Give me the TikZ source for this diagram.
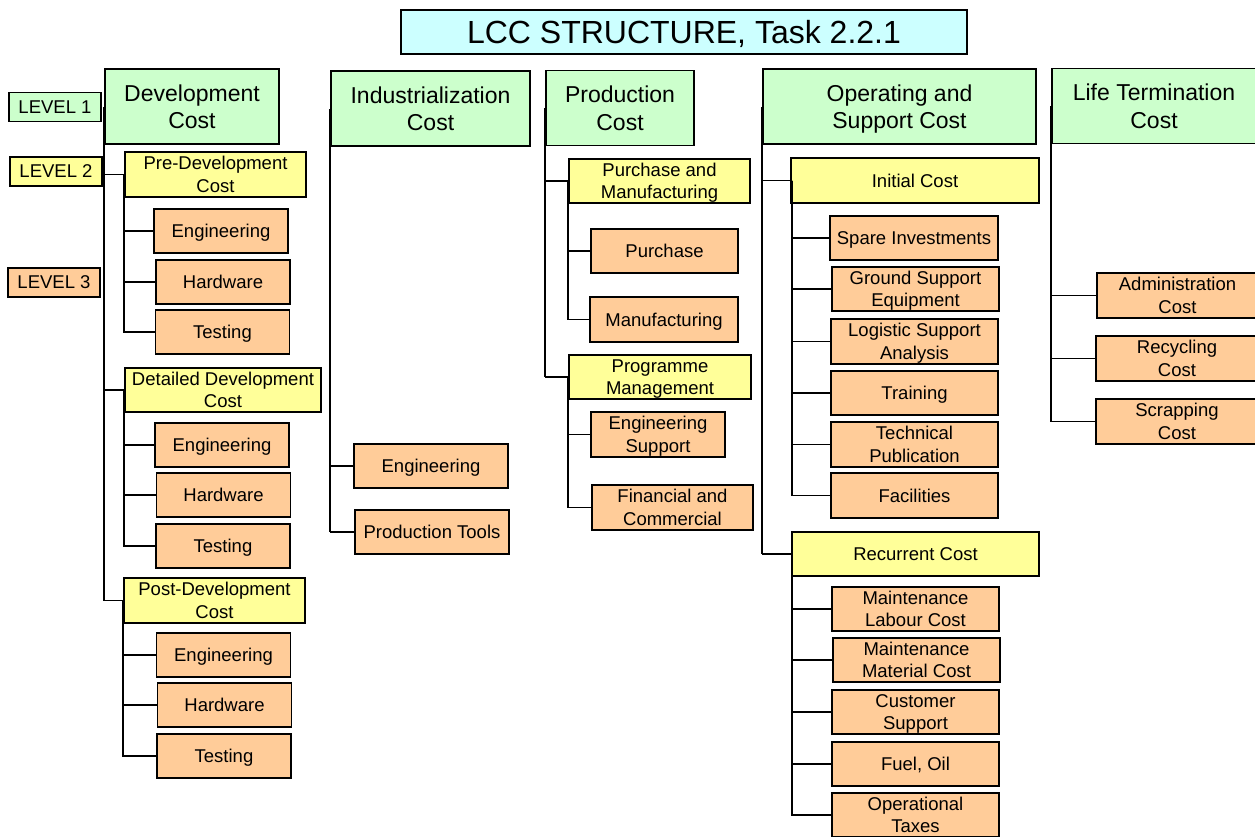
\documentclass[tikz,border=0pt]{standalone}
\usepackage{fontspec}
\setmainfont{Liberation Sans}
\definecolor{lonecol}{HTML}{CCFFCC}
\definecolor{ltwocol}{HTML}{FFFF99}
\definecolor{lthreecol}{HTML}{FFCC99}
\definecolor{titlecol}{HTML}{CCFFFF}
\begin{document}
\begin{tikzpicture}[x=1pt,y=-1pt,
  box/.style={draw=black, line width=1.6pt, inner sep=0pt, align=center, text=black, text depth=0pt},
  titlebox/.style={box, line width=1.1pt, fill=titlecol, font=\fontsize{32}{36}\selectfont},
  levbox/.style={box, minimum width=92, minimum height=29, font=\fontsize{18.5}{21}\selectfont},
  lone/.style={box, fill=lonecol, minimum height=75, text depth=-4pt, font=\fontsize{23}{27.5}\selectfont},
  ltwo/.style={box, fill=ltwocol, minimum height=44, font=\fontsize{18.5}{22.5}\selectfont},
  lthree/.style={box, fill=lthreecol, minimum width=134, minimum height=44, font=\fontsize{18.5}{22.5}\selectfont},
  trunk/.style={line width=2.2pt},
  conn/.style={line width=1.8pt}]
\useasboundingbox (0,0) rectangle (1255,836);

% title
\node[titlebox, minimum width=566, minimum height=44] (title) at (684,32) {LCC STRUCTURE, Task 2.2.1};

% level legend
\node[levbox, fill=lonecol] (lv1) at (55,107) {LEVEL 1};
\node[levbox, fill=ltwocol] (lv2) at (56,171.5) {LEVEL 2};
\node[levbox, fill=lthreecol] (lv3) at (54,282.5) {LEVEL 3};

% level 1
\node[lone, minimum width=174] (dev) at (192,106.5) {Development\\Cost};
\node[lone, minimum width=199] (ind) at (430.5,108.5) {Industrialization\\Cost};
\node[lone, minimum width=148] (prod) at (620,108) {Production\\Cost};
\node[lone, minimum width=273] (ops) at (899.5,106.5) {Operating and\\Support Cost};
\node[lone, minimum width=204] (life) at (1154,106) {Life Termination\\Cost};

% development
\node[ltwo, minimum width=181, minimum height=45] (pre) at (215.5,174.5) {Pre-Development\\Cost};
\node[lthree] (de1) at (221,231) {Engineering};
\node[lthree] (dh1) at (223,282) {Hardware};
\node[lthree] (dt1) at (222.5,332) {Testing};
\node[ltwo, minimum width=196] (det) at (223,390) {Detailed Development\\Cost};
\node[lthree] (de2) at (222,445) {Engineering};
\node[lthree] (dh2) at (223.5,495) {Hardware};
\node[lthree] (dt2) at (223,546) {Testing};
\node[ltwo, minimum width=181, minimum height=45] (post) at (214.5,600.5) {Post-Development\\Cost};
\node[lthree] (de3) at (223.5,655) {Engineering};
\node[lthree] (dh3) at (224.5,705) {Hardware};
\node[lthree] (dt3) at (224,756) {Testing};

% industrialization
\node[lthree, minimum width=154] (ie) at (431,466) {Engineering};
\node[lthree, minimum width=154] (ip) at (432,532) {Production Tools};

% production
\node[ltwo, minimum width=181] (pm) at (659.5,181) {Purchase and\\Manufacturing};
\node[lthree, minimum width=147] (pp) at (664.5,251) {Purchase};
\node[lthree, minimum width=148, minimum height=45] (pmf) at (664,319.5) {Manufacturing};
\node[ltwo, minimum width=182] (pg) at (660,377) {Programme\\Management};
\node[lthree, minimum height=45] (pes) at (658,434.5) {Engineering\\Support};
\node[lthree, minimum width=161, minimum height=45] (pfc) at (672.5,507.5) {Financial and\\Commercial};

% operating and support
\node[ltwo, minimum width=248, minimum height=45] (oi) at (915,180.5) {Initial Cost};
\node[lthree, minimum width=168] (o1) at (914,238) {Spare Investments};
\node[lthree, minimum width=167] (o2) at (915.5,289) {Ground Support\\Equipment};
\node[lthree, minimum width=167, minimum height=45] (o3) at (914.5,341.5) {Logistic Support\\Analysis};
\node[lthree, minimum width=167] (o4) at (914.5,393) {Training};
\node[lthree, minimum width=167, minimum height=45] (o5) at (914.5,444.5) {Technical\\Publication};
\node[lthree, minimum width=167, minimum height=45] (o6) at (914.5,495.5) {Facilities};
\node[ltwo, minimum width=247] (or) at (915.5,554) {Recurrent Cost};
\node[lthree, minimum width=167] (r1) at (915.5,609) {Maintenance\\Labour Cost};
\node[lthree, minimum width=167] (r2) at (916.5,660) {Maintenance\\Material Cost};
\node[lthree, minimum width=167] (r3) at (915.5,712) {Customer\\Support};
\node[lthree, minimum width=167] (r4) at (915.5,764) {Fuel, Oil};
\node[lthree, minimum width=167] (r5) at (915.5,815) {Operational\\Taxes};

% life termination
\node[lthree, minimum width=161, minimum height=45] (la) at (1177.5,295.5) {Administration\\Cost};
\node[lthree, minimum width=162, minimum height=45] (lr) at (1177,358.5) {Recycling\\Cost};
\node[lthree, minimum width=162, minimum height=45] (ls) at (1177,421.5) {Scrapping\\Cost};

% connectors: development
\draw[trunk] (dev.west) -- (dev.west |- post.west);
\foreach \c in {pre,det,post} \draw[conn] (dev.west |- \c.west) -- (\c.west);
\foreach \c in {de1,dh1,dt1} \draw[conn] (pre.west) |- (\c.west);
\foreach \c in {de2,dh2,dt2} \draw[conn] (det.west) |- (\c.west);
\foreach \c in {de3,dh3,dt3} \draw[conn] (post.west) |- (\c.west);

% industrialization
\draw[trunk] (ind.west) -- (ind.west |- ip.west);
\foreach \c in {ie,ip} \draw[conn] (ind.west |- \c.west) -- (\c.west);

% production
\draw[trunk] (prod.west) -- (prod.west |- pg.west);
\foreach \c in {pm,pg} \draw[conn] (prod.west |- \c.west) -- (\c.west);
\foreach \c in {pp,pmf} \draw[conn] (pm.west) |- (\c.west);
\foreach \c in {pes,pfc} \draw[conn] (pg.west) |- (\c.west);

% operating and support
\draw[trunk] (ops.west) -- (ops.west |- or.west);
\foreach \c in {oi,or} \draw[conn] (ops.west |- \c.west) -- (\c.west);
\foreach \c in {o1,o2,o3,o4,o5,o6} \draw[conn] ([xshift=2pt]oi.west) |- (\c.west);
\foreach \c in {r1,r2,r3,r4,r5} \draw[conn] ([xshift=1pt]or.west) |- (\c.west);

% life termination
\draw[trunk] (life.west) -- (life.west |- ls.west);
\foreach \c in {la,lr,ls} \draw[conn] (life.west |- \c.west) -- (\c.west);
\end{tikzpicture}
\end{document}
